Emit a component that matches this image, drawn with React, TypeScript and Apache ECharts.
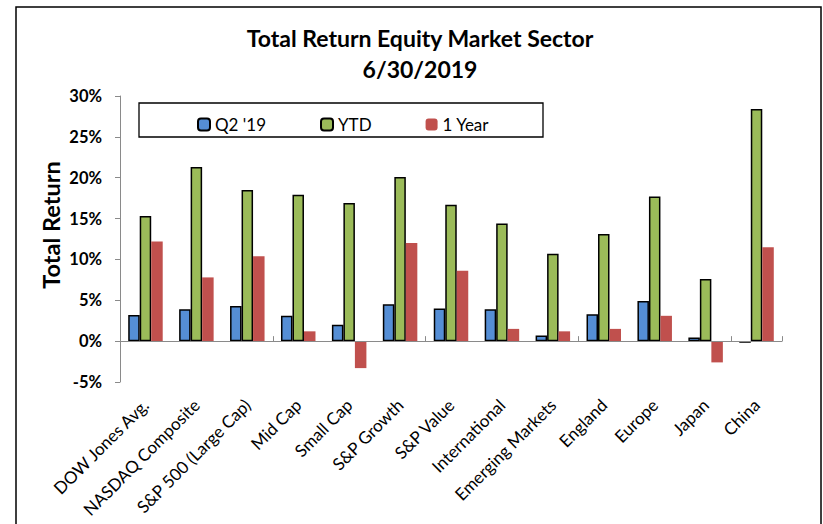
import React, { useEffect, useRef } from "react";
import * as echarts from "echarts";

const categories = [
  "DOW Jones Avg.",
  "NASDAQ Composite",
  "S&P 500 (Large Cap)",
  "Mid Cap",
  "Small Cap",
  "S&P Growth",
  "S&P Value",
  "International",
  "Emerging Markets",
  "England",
  "Europe",
  "Japan",
  "China",
];
const q2Values = [3.2, 3.9, 4.3, 3.1, 2.0, 4.5, 4.0, 3.9, 0.7, 3.3, 4.9, 0.45, -0.2];
const ytdValues = [15.3, 21.3, 18.5, 17.9, 16.9, 20.1, 16.7, 14.4, 10.7, 13.1, 17.7, 7.6, 28.4];
const oneYearValues = [12.2, 7.8, 10.4, 1.2, -3.3, 12.0, 8.6, 1.5, 1.2, 1.5, 3.1, -2.6, 11.5];
const seriesNames = ["Q2 '19", "YTD", "1 Year"];
const titleLines = ["Total Return Equity Market Sector", "6/30/2019"];
const yAxisTitle = "Total Return";

const FONT = "Lato, 'Open Sans', sans-serif";

export default function App() {
  const ref = useRef<HTMLDivElement>(null);
  useEffect(() => {
    if (!ref.current) return;
    const chart = echarts.init(ref.current, undefined, { renderer: "svg" });
    const barW = 11.5;
    chart.setOption({
      animation: false,
      backgroundColor: "#fff",
      textStyle: { fontFamily: FONT },
      grid: {
        left: 120,
        right: 41,
        top: 96,
        bottom: 142,
        containLabel: false,
        outerBoundsMode: "none",
      },
      legend: {
        left: 192,
        top: 111,
        itemWidth: 12,
        itemHeight: 12,
        itemGap: 54,
        textStyle: { fontFamily: FONT, fontSize: 17, color: "#000" },
        data: seriesNames,
      },
      xAxis: [
        {
          type: "category",
          data: categories,
          position: "bottom",
          axisLine: { onZero: true, lineStyle: { color: "#8a8a8a", width: 1 } },
          axisTick: { show: true, inside: true, length: 5, lineStyle: { color: "#8a8a8a" } },
          axisLabel: { show: false },
          z: 10,
        },
        {
          type: "category",
          data: categories,
          position: "bottom",
          axisLine: { show: false, onZero: false },
          axisTick: { show: false },
          axisLabel: {
            rotate: 45,
            margin: 20,
            fontSize: 17,
            color: "#000",
            fontFamily: FONT,
            interval: 0,
          },
        },
      ],
      yAxis: {
        type: "value",
        min: -5,
        max: 30,
        interval: 5,
        axisLine: { show: true, lineStyle: { color: "#8a8a8a", width: 1 } },
        axisTick: { show: true, inside: false, length: 5, lineStyle: { color: "#8a8a8a" } },
        splitLine: { show: false },
        axisLabel: {
          formatter: "{value}%",
          fontSize: 16.5,
          fontWeight: "bold",
          color: "#000",
          margin: 18,
          fontFamily: FONT,
        },
      },
      series: [
        {
          name: seriesNames[0],
          type: "bar",
          data: q2Values,
          barWidth: barW,
          barGap: "0%",
          itemStyle: { color: "#558ED5", borderColor: "#000", borderWidth: 1.5 },
        },
        {
          name: seriesNames[1],
          type: "bar",
          data: ytdValues,
          barWidth: barW,
          barGap: "0%",
          itemStyle: { color: "#9BBB59", borderColor: "#000", borderWidth: 1.5 },
        },
        {
          name: seriesNames[2],
          type: "bar",
          data: oneYearValues,
          barWidth: barW,
          barGap: "0%",
          itemStyle: { color: "#C0504D" },
        },
      ],
      graphic: [
        {
          type: "rect",
          shape: { x: 16, y: 7, width: 805, height: 600 },
          style: { fill: "none", stroke: "#000", lineWidth: 1.5 },
          silent: true,
        },
        {
          type: "rect",
          shape: { x: 139, y: 103, width: 404, height: 34 },
          style: { fill: "none", stroke: "#000", lineWidth: 1.3 },
          silent: true,
        },
        {
          type: "text",
          x: 420,
          y: 38,
          style: {
            text: titleLines[0],
            fontFamily: FONT,
            fontSize: 23,
            fontWeight: "bold",
            fill: "#000",
            textAlign: "center",
            textVerticalAlign: "middle",
          },
        },
        {
          type: "text",
          x: 420,
          y: 69,
          style: {
            text: titleLines[1],
            fontFamily: FONT,
            fontSize: 23,
            fontWeight: "bold",
            fill: "#000",
            textAlign: "center",
            textVerticalAlign: "middle",
          },
        },
        {
          type: "text",
          x: 51,
          y: 225,
          rotation: Math.PI / 2,
          style: {
            text: yAxisTitle,
            fontFamily: FONT,
            fontSize: 23.5,
            fontWeight: "bold",
            fill: "#000",
            textAlign: "center",
            textVerticalAlign: "middle",
          },
        },
      ],
    });
    return () => chart.dispose();
  }, []);
  return (
    <div
      ref={ref}
      style={{ position: "fixed", left: 0, top: 0, width: 823, height: 524, background: "#fff" }}
    />
  );
}
